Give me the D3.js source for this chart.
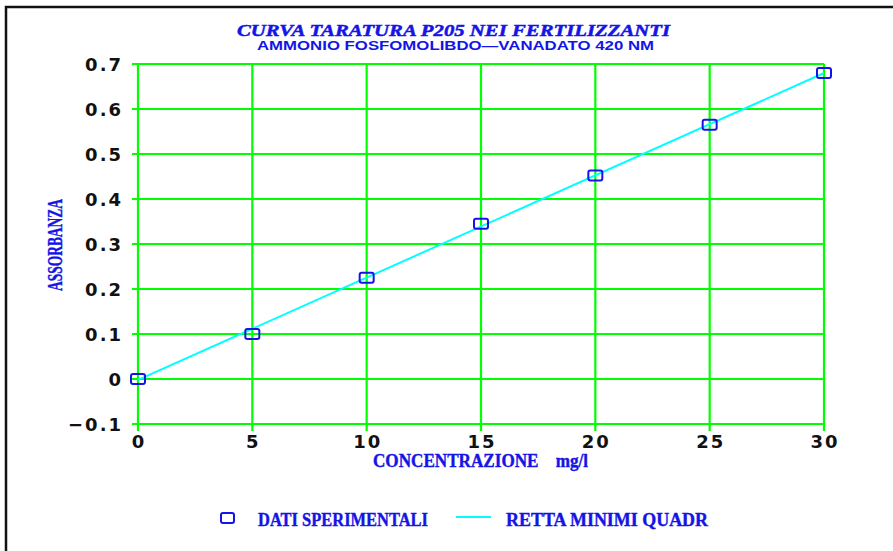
<!DOCTYPE html>
<html>
<head>
<meta charset="utf-8">
<script src="https://cdn.jsdelivr.net/npm/d3@7"></script>
<style>
  body { margin: 0; background: #fff; }
  svg { display: block; }
</style>
</head>
<body>
<svg id="chart"></svg>
<script>
// calibration data
const conc = [0, 5, 10, 15, 20, 25, 30];
const absorb = [0, 0.1, 0.225, 0.345, 0.452, 0.565, 0.68];
// least squares line, endpoints
const fitX = [0, 30];
const fitY = [-0.002, 0.68];
const xTicks = [0, 5, 10, 15, 20, 25, 30];
const yTicks = [-0.1, 0, 0.1, 0.2, 0.3, 0.4, 0.5, 0.6, 0.7];

const width = 893;
const height = 551;
const blue = '#1414e6';

const svg = d3.select('#chart')
  .attr('width', width)
  .attr('height', height);

// frame (only top and left edges show)
svg.append('path')
  .attr('d', `M6,${height} L6,7 L${width},7`)
  .attr('fill', 'none')
  .attr('stroke', '#111')
  .attr('stroke-width', 2.5);

const x = d3.scaleLinear().domain([0, 30]).range([138, 824]);
const y = d3.scaleLinear().domain([-0.1, 0.7]).range([424, 64]);

// grid
const grid = svg.append('g').attr('stroke', '#00ff00').attr('stroke-width', 2.2);
grid.selectAll('.vx')
  .data(xTicks)
  .enter().append('line')
    .attr('x1', d => x(d)).attr('x2', d => x(d))
    .attr('y1', y(0.7)).attr('y2', y(-0.1) + 7);
grid.selectAll('.hy')
  .data(yTicks)
  .enter().append('line')
    .attr('x1', x(0) - 6).attr('x2', x(30))
    .attr('y1', d => y(d)).attr('y2', d => y(d));

// tick labels
const fmt = d => d === 0 ? '0' : (d < 0 ? '\u2212' + Math.abs(d) : String(d));
svg.append('g').selectAll('text')
  .data(yTicks)
  .enter().append('text')
    .attr('x', 123)
    .attr('y', d => y(d) + 7)
    .attr('text-anchor', 'end')
    .attr('font-family', 'DejaVu Sans')
    .attr('font-weight', 'bold')
    .attr('font-size', 18)
    .attr('letter-spacing', 2)
    .attr('fill', '#111')
    .text(fmt);

svg.append('g').selectAll('text')
  .data(xTicks)
  .enter().append('text')
    .attr('x', d => x(d) + 1)
    .attr('y', 448)
    .attr('text-anchor', 'middle')
    .attr('font-family', 'DejaVu Sans')
    .attr('font-weight', 'bold')
    .attr('font-size', 18)
    .attr('letter-spacing', 2)
    .attr('fill', '#111')
    .text(d => String(d));

// regression line
const line = d3.line().x(d => x(d[0])).y(d => y(d[1]));
svg.append('path')
  .datum(d3.zip(fitX, fitY))
  .attr('d', line)
  .attr('fill', 'none')
  .attr('stroke', '#00ffff')
  .attr('stroke-width', 2);

// data markers
svg.append('g').selectAll('rect')
  .data(d3.zip(conc, absorb))
  .enter().append('rect')
    .attr('x', d => x(d[0]) - 7)
    .attr('y', d => y(d[1]) - 5)
    .attr('width', 14)
    .attr('height', 10)
    .attr('rx', 2)
    .attr('fill', 'none')
    .attr('stroke', blue)
    .attr('stroke-width', 2);

// titles
svg.append('text')
  .attr('x', 237).attr('y', 36)
  .attr('textLength', 433).attr('lengthAdjust', 'spacingAndGlyphs')
  .attr('font-family', 'Liberation Serif')
  .attr('font-style', 'italic').attr('font-weight', 'bold')
  .attr('font-size', 17).attr('fill', blue)
  .attr('stroke', blue).attr('stroke-width', 0.5)
  .text('CURVA TARATURA P205 NEI FERTILIZZANTI');

svg.append('text')
  .attr('x', 257).attr('y', 50)
  .attr('textLength', 397).attr('lengthAdjust', 'spacingAndGlyphs')
  .attr('font-family', 'Liberation Sans')
  .attr('font-weight', 'bold')
  .attr('font-size', 12).attr('fill', blue)
  .text('AMMONIO FOSFOMOLIBDO\u2014VANADATO 420 NM');

// axis titles
svg.append('text')
  .attr('x', 373).attr('y', 467)
  .attr('textLength', 215).attr('lengthAdjust', 'spacingAndGlyphs')
  .attr('font-family', 'Liberation Serif')
  .attr('font-weight', 'bold')
  .attr('font-size', 19).attr('fill', blue)
  .attr('stroke', blue).attr('stroke-width', 0.4)
  .attr('xml:space', 'preserve')
  .text('CONCENTRAZIONE    mg/l');

svg.append('text')
  .attr('transform', 'translate(62,291) rotate(-90)')
  .attr('textLength', 92).attr('lengthAdjust', 'spacingAndGlyphs')
  .attr('font-family', 'Liberation Serif')
  .attr('font-weight', 'bold')
  .attr('font-size', 20).attr('fill', blue)
  .attr('stroke', blue).attr('stroke-width', 0.4)
  .text('ASSORBANZA');

// legend
const legend = svg.append('g');
legend.append('rect')
  .attr('x', 221).attr('y', 513)
  .attr('width', 13).attr('height', 10).attr('rx', 2)
  .attr('fill', 'none').attr('stroke', blue).attr('stroke-width', 2);
legend.append('text')
  .attr('x', 258).attr('y', 526)
  .attr('textLength', 170).attr('lengthAdjust', 'spacingAndGlyphs')
  .attr('font-family', 'Liberation Serif').attr('font-weight', 'bold')
  .attr('font-size', 19).attr('fill', blue)
  .attr('stroke', blue).attr('stroke-width', 0.4)
  .text('DATI SPERIMENTALI');
legend.append('line')
  .attr('x1', 456).attr('x2', 491).attr('y1', 517).attr('y2', 517)
  .attr('stroke', '#00ffff').attr('stroke-width', 2);
legend.append('text')
  .attr('x', 506).attr('y', 526)
  .attr('textLength', 202).attr('lengthAdjust', 'spacingAndGlyphs')
  .attr('font-family', 'Liberation Serif').attr('font-weight', 'bold')
  .attr('font-size', 19).attr('fill', blue)
  .attr('stroke', blue).attr('stroke-width', 0.4)
  .text('RETTA MINIMI QUADR');
</script>
</body>
</html>
